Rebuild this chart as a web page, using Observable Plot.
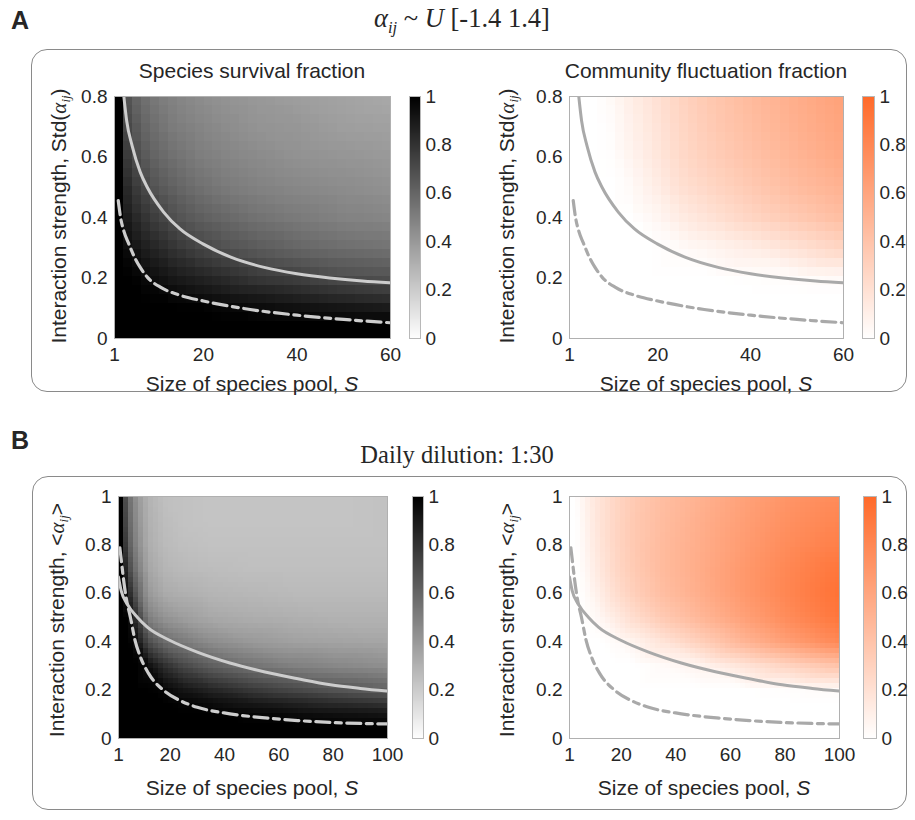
<!DOCTYPE html>
<html><head><meta charset="utf-8">
<script src="https://cdn.jsdelivr.net/npm/d3@7"></script>
<script src="https://cdn.jsdelivr.net/npm/@observablehq/plot@0.6"></script>
<style>
body{margin:0;background:#fff;}
#root{position:relative;width:915px;height:820px;font-family:"Liberation Sans",Arial,sans-serif;color:#262626;overflow:hidden;}
.box{position:absolute;border:1.2px solid #8a8a8a;border-radius:16px;}
.t{position:absolute;white-space:nowrap;transform:translate(-50%,-50%);line-height:1;}
.rot{transform:translate(-50%,-50%) rotate(-90deg);}
.serif{font-family:"Liberation Serif","Times New Roman",serif;}
.mi{font-family:"Liberation Serif","Times New Roman",serif;font-style:italic;}
sub{font-size:0.62em;vertical-align:-0.35em;}
.panel{font-weight:bold;font-size:25px;}
svg{position:absolute;}
</style></head>
<body><div id="root"></div>
<script>
// ---------- Data ----------
// Panel A: alpha_ij ~ U[-1.4 1.4]; x = S (1..60), y = Std(alpha_ij) (0..0.8)
const aS   = [1, 2, 3.5, 5, 7, 10, 14, 19, 25, 32, 40, 50, 60];
const aStd = [0, 0.05, 0.1, 0.15, 0.2, 0.3, 0.4, 0.5, 0.6, 0.7, 0.8];
// survival fraction, one row per S value (columns follow aStd)
const aSurvival = [
  [1,1,1,1,1,1,1,1,1,1,1],
  [1,1,1,1,1,1,1,1,1,1,1],
  [1,1,1,1,1,.96,.9,.85,.79,.73,.68],
  [1,1,1,1,1,.93,.86,.79,.72,.67,.62],
  [1,1,1,1,.97,.89,.81,.73,.66,.61,.57],
  [1,1,1,.99,.94,.85,.75,.66,.6,.56,.52],
  [1,1,1,.96,.9,.79,.68,.61,.555,.51,.48],
  [1,1,1,.93,.87,.73,.63,.56,.51,.48,.45],
  [1,1,.98,.9,.83,.68,.59,.52,.48,.45,.42],
  [1,1,.96,.88,.78,.64,.55,.49,.455,.42,.4],
  [1,1,.94,.85,.75,.6,.52,.47,.43,.41,.38],
  [1,1,.92,.81,.7,.57,.49,.45,.415,.38,.36],
  [1,1,.9,.78,.68,.55,.475,.43,.4,.37,.34]
];
// community fluctuation fraction
const aFluct = [
  [0,0,0,0,0,0,0,0,0,0,0],
  [0,0,0,0,0,0,0,0,0,0,0],
  [0,0,0,0,0,0,0,0,0,0,0],
  [0,0,0,0,0,0,0,0,0,0,0],
  [0,0,0,0,0,0,0,0,0,0,0],
  [0,0,0,0,0,0,0,0,.01,.02,.04],
  [0,0,0,0,0,0,0,.03,.07,.09,.11],
  [0,0,0,0,0,0,.05,.11,.15,.17,.19],
  [0,0,0,0,0,.03,.13,.21,.25,.27,.29],
  [0,0,0,0,0,.07,.2,.28,.33,.36,.38],
  [0,0,0,0,.01,.12,.28,.36,.41,.44,.46],
  [0,0,0,0,.02,.2,.36,.45,.5,.53,.55],
  [0,0,0,0,.04,.28,.44,.52,.58,.61,.63]
];
// boundary curves, panel A
const aSolidS  = [3.0, 3.6, 4.8, 6.5, 8, 11.5, 15, 20, 26, 33, 40, 47, 54, 60];
const aSolidY  = [0.80, 0.72, 0.635, 0.55, 0.5, 0.418, 0.362, 0.312, 0.268, 0.235, 0.214, 0.2, 0.19, 0.184];
const aDashS   = [1.8, 2.3, 3, 4, 5.3, 6.5, 8, 11, 15, 20, 30, 40, 50, 60];
const aDashY   = [0.456, 0.40, 0.355, 0.315, 0.268, 0.235, 0.203, 0.168, 0.143, 0.124, 0.096, 0.077, 0.063, 0.052];

// Panel B: daily dilution 1:30; x = S (1..100), y = <alpha_ij> (0..1)
const bS    = [1, 2, 3.5, 5, 8, 12, 18, 25, 35, 50, 65, 80, 100];
const bMean = [0, 0.05, 0.1, 0.15, 0.2, 0.3, 0.4, 0.5, 0.6, 0.7, 0.8, 0.9, 1];
const bSurvival = [
  [1,1,1,1,1,1,1,1,1,1,1,1,1],
  [1,1,1,1,1,1,1,1,1,1,1,1,1],
  [1,1,1,1,1,1,1,1,.96,.89,.81,.76,.73],
  [1,1,1,1,1,1,1,.97,.85,.72,.64,.6,.57],
  [1,1,1,1,1,1,.93,.78,.62,.52,.46,.43,.41],
  [1,1,1,1,1,.95,.7,.5,.4,.35,.32,.31,.3],
  [1,1,1,1,.98,.82,.58,.42,.33,.29,.27,.26,.25],
  [1,1,1,.98,.92,.72,.52,.38,.31,.27,.25,.24,.24],
  [1,1,1,.95,.86,.63,.45,.34,.29,.26,.24,.23,.23],
  [1,1,.98,.9,.78,.55,.4,.32,.28,.25,.24,.23,.23],
  [1,1,.96,.86,.72,.5,.37,.31,.27,.25,.24,.23,.23],
  [1,1,.94,.82,.67,.47,.36,.3,.27,.25,.24,.23,.23],
  [1,1,.92,.78,.62,.44,.35,.3,.27,.25,.24,.24,.24]
];
const bFluct = [
  [0,0,0,0,0,0,0,0,0,0,0,0,0],
  [0,0,0,0,0,0,0,0,0,0,0,0,0],
  [0,0,0,0,0,0,0,0,0,0,.01,.01,.02],
  [0,0,0,0,0,0,0,0,.01,.02,.03,.04,.05],
  [0,0,0,0,0,0,0,.02,.05,.08,.1,.11,.12],
  [0,0,0,0,0,0,0,.06,.12,.16,.18,.19,.19],
  [0,0,0,0,0,0,.03,.14,.23,.27,.28,.28,.28],
  [0,0,0,0,0,0,.08,.24,.33,.36,.37,.37,.36],
  [0,0,0,0,0,.03,.18,.36,.44,.46,.46,.45,.44],
  [0,0,0,0,0,.08,.33,.5,.56,.57,.56,.55,.53],
  [0,0,0,0,0,.18,.5,.64,.69,.69,.67,.65,.63],
  [0,0,0,0,.01,.28,.64,.77,.81,.8,.77,.74,.71],
  [0,0,0,0,.03,.4,.8,.92,.95,.92,.86,.82,.78]
];
const bSolidS = [1, 2, 4.2, 8, 11.6, 20, 30, 42, 54.5, 67, 79, 90, 100];
const bSolidY = [0.667, 0.61, 0.556, 0.5, 0.46, 0.405, 0.357, 0.312, 0.276, 0.247, 0.222, 0.207, 0.196];
const bDashS  = [1.5, 2.2, 2.9, 4, 5.4, 7, 9.1, 12, 17.7, 24, 30, 42, 55, 67, 80, 100];
const bDashY  = [0.788, 0.72, 0.653, 0.57, 0.5, 0.41, 0.336, 0.27, 0.198, 0.155, 0.129, 0.102, 0.085, 0.074, 0.066, 0.06];

// tick labels
const aXTicks = [1, 20, 40, 60];
const aYTicks = [0, 0.2, 0.4, 0.6, 0.8];
const bXTicks = [1, 20, 40, 60, 80, 100];
const bYTicks = [0, 0.2, 0.4, 0.6, 0.8, 1];
const cbTicks = [0, 0.2, 0.4, 0.6, 0.8, 1];

const grayRange   = ["#ffffff", "#000000"];
const orangeRange = ["#ffffff", "#ff6a2a"];

// ---------- Drawing ----------
const root = document.getElementById("root");
const FONT = '"Liberation Sans", Arial, sans-serif';
const fmt = d => String(d);

function add(html, x, y, size, cls = "", extra = "") {
  const d = document.createElement("div");
  d.className = "t " + cls;
  d.style.left = x + "px"; d.style.top = y + "px"; d.style.fontSize = size + "px";
  if (extra) d.style.cssText += extra;
  d.innerHTML = html;
  root.appendChild(d);
  return d;
}
function box(l, t, r, b) {
  const d = document.createElement("div");
  d.className = "box";
  d.style.left = l + "px"; d.style.top = t + "px";
  d.style.width = (r - l) + "px"; d.style.height = (b - t) + "px";
  root.appendChild(d);
}

const mL = 55, mR = 20, mT = 12, mB = 40;
function heatmap(c) {
  const pts = [];
  c.S.forEach((s, i) => c.Y.forEach((y, j) => pts.push({S: s, y, v: c.V[i][j]})));
  const solid = c.solidS.map((s, i) => ({S: s, y: c.solidY[i]}));
  const dash = c.dashS.map((s, i) => ({S: s, y: c.dashY[i]}));
  const svg = Plot.plot({
    width: c.R - c.L + mL + mR, height: c.B - c.T + mT + mB,
    marginLeft: mL, marginRight: mR, marginTop: mT, marginBottom: mB,
    style: {fontSize: "19px", fontFamily: FONT, color: "#262626", background: "transparent", overflow: "visible"},
    x: {domain: c.xdom, ticks: c.xt, tickFormat: fmt, tickSize: 0, tickPadding: 9, label: null},
    y: {domain: c.ydom, ticks: c.yt, tickFormat: fmt, tickSize: 0, tickPadding: 7, label: null},
    color: {type: "linear", domain: [0, 1], range: c.range, interpolate: "rgb"},
    marks: [
      Plot.raster(pts, {x: "S", y: "y", fill: "v", interpolate: "barycentric", pixelSize: c.px,
        imageRendering: "pixelated", x1: c.xdom[0], x2: c.xdom[1], y1: c.ydom[0], y2: c.ydom[1]}),
      Plot.line(solid, {x: "S", y: "y", curve: "monotone-x", stroke: c.curve, strokeWidth: 3, clip: true}),
      Plot.line(dash, {x: "S", y: "y", curve: "monotone-x", stroke: c.curve, strokeWidth: 3.2,
        strokeDasharray: "14,5.5,6,5.5", clip: true}),
      Plot.frame({stroke: "#b0b0b0", strokeWidth: 1})
    ]
  });
  svg.style.left = (c.L - mL) + "px"; svg.style.top = (c.T - mT) + "px";
  root.appendChild(svg);
}
function colorbar(range, l, r, t, b) {
  const svg = Plot.plot({
    width: r - l + 1 + 45, height: b - t + 24,
    marginLeft: 1, marginRight: 45, marginTop: 12, marginBottom: 12,
    style: {fontSize: "19px", fontFamily: FONT, color: "#262626", background: "transparent", overflow: "visible"},
    x: {domain: [0, 1], axis: null},
    y: {domain: [0, 1], axis: "right", ticks: cbTicks, tickFormat: fmt, tickSize: 0, tickPadding: 5, label: null},
    color: {type: "linear", domain: [0, 1], range, interpolate: "rgb"},
    marks: [
      Plot.raster({x1: 0, x2: 1, y1: 0, y2: 1, fill: (x, y) => y, pixelSize: 1}),
      Plot.frame({stroke: "#b8b8b8"})
    ]
  });
  svg.style.left = (l - 1) + "px"; svg.style.top = (t - 12) + "px";
  root.appendChild(svg);
}

// boxes
box(31, 49, 905, 390);
box(32, 476, 905, 808);

// panel labels & titles
add("A", 20, 20, 25, "panel");
add("B", 20, 440, 25, "panel");
add('<span class="mi">α</span><sub class="mi">ij</sub> ~ <span class="mi">U</span> [-1.4 1.4]', 462, 21, 26.5, "serif");
add("Daily dilution: 1:30", 457, 455, 24.5, "serif");
add("Species survival fraction", 252, 70, 21);
add("Community fluctuation fraction", 706, 70, 21);

const A = {S: aS, Y: aStd, xdom: [1, 60], ydom: [0, 0.8], xt: aXTicks, yt: aYTicks, px: 9,
  solidS: aSolidS, solidY: aSolidY, dashS: aDashS, dashY: aDashY, T: 96, B: 338};
const B = {S: bS, Y: bMean, xdom: [1, 100], ydom: [0, 1], xt: bXTicks, yt: bYTicks, px: 5,
  solidS: bSolidS, solidY: bSolidY, dashS: bDashS, dashY: bDashY, T: 496, B: 738};

heatmap({...A, V: aSurvival, range: grayRange, curve: "#cdcdcd", L: 114, R: 390});
heatmap({...A, V: aFluct, range: orangeRange, curve: "#a9a9a9", L: 569, R: 843});
heatmap({...B, V: bSurvival, range: grayRange, curve: "#cdcdcd", L: 118, R: 387});
heatmap({...B, V: bFluct, range: orangeRange, curve: "#a9a9a9", L: 569, R: 839});

colorbar(grayRange, 409, 420, 96, 338);
colorbar(orangeRange, 862, 874, 96, 338);
colorbar(grayRange, 412, 423, 496, 738);
colorbar(orangeRange, 863, 876, 496, 738);

// axis labels
const yLabA = 'Interaction strength, Std(<span class="mi">α</span><sub class="mi">ij</sub>)';
const yLabB = 'Interaction strength, &lt;<span class="mi">α</span><sub class="mi">ij</sub>&gt;';
const xLab = 'Size of species pool, <i>S</i>';
add(yLabA, 60, 216, 21, "rot");
add(yLabA, 508, 216, 21, "rot");
add(yLabB, 58, 620, 21, "rot");
add(yLabB, 508, 620, 21, "rot");
add(xLab, 252, 383, 21);
add(xLab, 706, 383, 21);
add(xLab, 252, 787, 21);
add(xLab, 704, 787, 21);
</script>
</body></html>
